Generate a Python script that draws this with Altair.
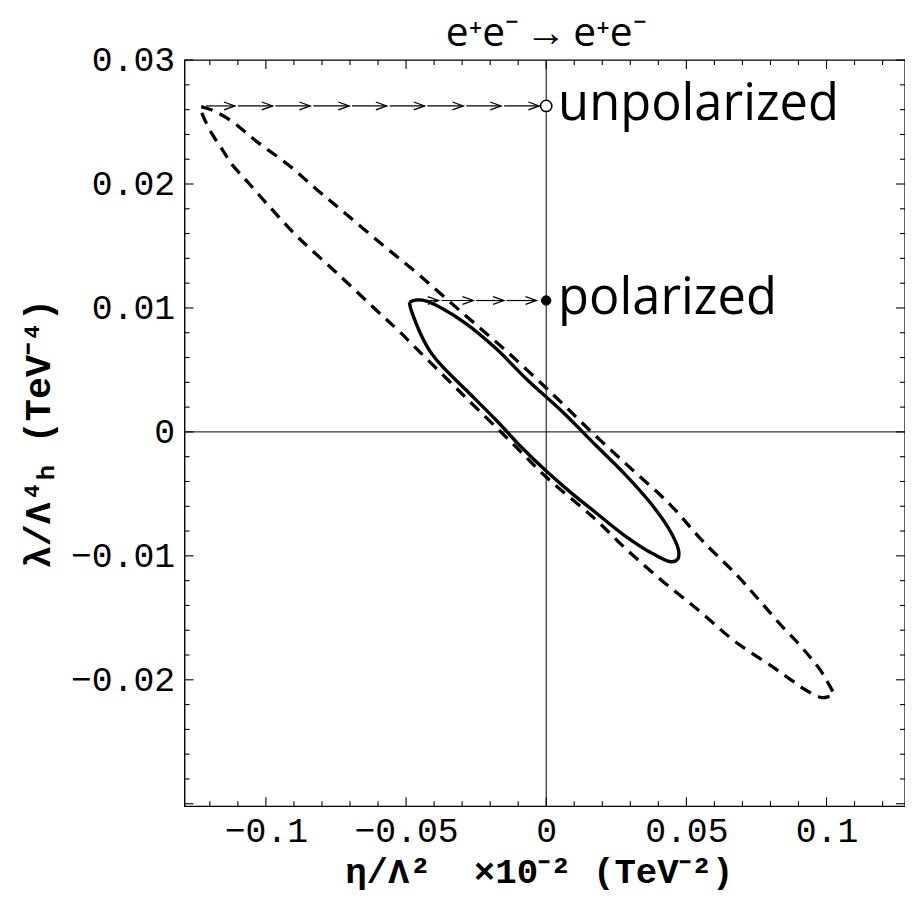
import altair as alt
import pandas as pd

# ---------------- data ----------------
# unpolarized (dashed) contour, traced point by point
unpol_x = [-0.1231, -0.1188, -0.1125, -0.1029, -0.0923, -0.0817, -0.0711, -0.0579, -0.0452,
           -0.0299, -0.0144, 0.0027, 0.0165, 0.0299, 0.0441, 0.0558, 0.0682, 0.0767, 0.0838,
           0.0898, 0.0944, 0.0980, 0.1001, 0.1019, 0.1026, 0.1008, 0.0983, 0.0930, 0.0873,
           0.0803, 0.0672, 0.0548, 0.0413, 0.0292, 0.0175, -0.0002, -0.0126, -0.0299, -0.0463,
           -0.0533, -0.0603, -0.0746, -0.0888, -0.0990, -0.1065, -0.1122, -0.1154, -0.1189, -0.1217,
           -0.1231, -0.1231]
unpol_y = [0.02624, 0.02592, 0.02512, 0.02336, 0.0216, 0.01952, 0.01752, 0.0150, 0.01264,
           0.0096, 0.00656, 0.00296, -0.00008, -0.00288, -0.00584, -0.0088, -0.0116, -0.01376, -0.0156,
           -0.01704, -0.01824, -0.01928, -0.02008, -0.0208, -0.0212, -0.02136, -0.02144, -0.02088, -0.0200,
           -0.01888, -0.01688, -0.01448, -0.0120, -0.0096, -0.00704, -0.0036, -0.0008, 0.00304, 0.00672,
           0.0083, 0.00976, 0.0128, 0.01576, 0.01824, 0.02016, 0.0216, 0.02272, 0.02392, 0.02512,
           0.02592, 0.02624]

# polarized (solid) contour
pol_x = [-0.0488, -0.0463, -0.0427, -0.0374, -0.0285, -0.0179, -0.0066, 0.0055, 0.0175, 0.0282,
         0.0370, 0.0434, 0.0462, 0.0473, 0.0470, 0.0448, 0.0388, 0.0282, 0.0175, 0.0087,
         0.0002, -0.0090, -0.0179, -0.0285, -0.0374, -0.0416, -0.0445, -0.0469, -0.0484, -0.0488]
pol_y = [0.01048, 0.01064, 0.01056, 0.0100, 0.00872, 0.00672, 0.00416, 0.00168, -0.00104, -0.00344,
         -0.00568, -0.00768, -0.00888, -0.00968, -0.01024, -0.01048, -0.00992, -0.0084, -0.00648, -0.00488,
         -0.0032, -0.0012, 0.00096, 0.00336, 0.00536, 0.00656, 0.00776, 0.00904, 0.0100, 0.01048]

# chain of arrows from the contour tips to the lambda axis
unpol_max = 0.0263
unpol_arrow_start = [-0.1214, -0.1100, -0.0966, -0.0831, -0.0693, -0.0558, -0.0424, -0.0285, -0.0150]
unpol_arrow_end = [-0.1111, -0.0976, -0.0842, -0.0703, -0.0569, -0.0434, -0.0296, -0.0161, -0.0025]
pol_max = 0.0106
pol_arrow_start = [-0.0478, -0.0374, -0.0250, -0.0141]
pol_arrow_end = [-0.0384, -0.0260, -0.0151, -0.0035]

label_text = ["unpolarized", "polarized"]
label_y = [unpol_max, pol_max]

# axes
x_labels = [-0.1, -0.05, 0, 0.05, 0.1]
x_minor = [-0.12, -0.11, -0.09, -0.08, -0.07, -0.06, -0.04, -0.03, -0.02, -0.01,
           0.01, 0.02, 0.03, 0.04, 0.06, 0.07, 0.08, 0.09, 0.11, 0.12]
y_labels = [-0.02, -0.01, 0, 0.01, 0.02, 0.03]
y_major = [-0.03, -0.02, -0.01, 0, 0.01, 0.02, 0.03]
y_minor = [-0.028, -0.026, -0.024, -0.022, -0.018, -0.016, -0.014, -0.012, -0.008, -0.006,
           -0.004, -0.002, 0.002, 0.004, 0.006, 0.008, 0.012, 0.014, 0.016, 0.018,
           0.022, 0.024, 0.026, 0.028]

title_text = ["e⁺e⁻\u2009→\u2009e⁺e⁻"]
title_x = [0]
x_title = "η/Λ²\u00a0\u00a0×10⁻² (TeV⁻²)"
y_title = "λ/Λ⁴ₕ (TeV⁻⁴)"

# ---------------- chart ----------------
W, H = 726, 752
xs = alt.Scale(domain=[-0.129, 0.128], nice=False, zero=False)
ys = alt.Scale(domain=[-0.0302, 0.03], nice=False, zero=False)

xaxis = alt.Axis(values=x_labels, format="~g", ticks=False, domain=False, grid=False,
                 labelFont="Liberation Mono", labelFontSize=35, labelColor="black",
                 labelPadding=8, labelFlush=False, labelOverlap=False,
                 title=x_title, titleFont="Liberation Mono", titleFontSize=36,
                 titleFontWeight="bold", titleColor="black",
                 titleX=357, titleY=77, titleAlign="center", titleBaseline="alphabetic")
yaxis = alt.Axis(values=y_labels, format="~g", ticks=False, domain=False, grid=False,
                 labelFont="Liberation Mono", labelFontSize=35, labelColor="black",
                 labelPadding=10, labelFlush=False, labelOverlap=False,
                 title=y_title, titleFont="Liberation Mono", titleFontSize=37,
                 titleFontWeight="bold", titleColor="black",
                 titleX=-147, titleY=376, titleAlign="center", titleBaseline="middle")


def X(f):
    return alt.X(f, type="quantitative", scale=xs, axis=xaxis)


def Y(f):
    return alt.Y(f, type="quantitative", scale=ys, axis=yaxis)


unpol_df = pd.DataFrame({"x": unpol_x, "y": unpol_y, "i": range(len(unpol_x))})
pol_df = pd.DataFrame({"x": pol_x, "y": pol_y, "i": range(len(pol_x))})
arrows_df = pd.DataFrame({
    "x0": unpol_arrow_start + pol_arrow_start,
    "x1": unpol_arrow_end + pol_arrow_end,
    "y": [unpol_max] * len(unpol_arrow_start) + [pol_max] * len(pol_arrow_start),
})
labels_df = pd.DataFrame({"x": [0, 0], "y": label_y, "t": label_text})
origin_df = pd.DataFrame({"x": [0], "y": [0]})
title_df = pd.DataFrame({"x": title_x, "t": title_text})

unpol_line = alt.Chart(unpol_df).mark_line(color="black", strokeWidth=3.3, strokeDash=[12, 8],
                                           interpolate="catmull-rom").encode(
    x=X("x"), y=Y("y"), order="i:Q")
pol_line = alt.Chart(pol_df).mark_line(color="black", strokeWidth=3.4,
                                       interpolate="catmull-rom").encode(
    x=X("x"), y=Y("y"), order="i:Q")

xzero = alt.Chart(origin_df).mark_rule(color="black", strokeWidth=1).encode(x=X("x"))
yzero = alt.Chart(origin_df).mark_rule(color="black", strokeWidth=1).encode(y=Y("y"))

shafts = alt.Chart(arrows_df).mark_rule(color="black", strokeWidth=1.2).encode(
    x=X("x0"), x2="x1", y=Y("y"))
heads = alt.Chart(arrows_df).mark_point(shape="M-1,-0.36L0,0L-1,0.36", size=480, filled=False,
                                        stroke="black", strokeWidth=1.3, opacity=1).encode(
    x=X("x1"), y=Y("y"))

open_pt = alt.Chart(labels_df.iloc[[0]]).mark_point(shape="circle", size=130, filled=True, fill="white",
                                                    stroke="black", strokeWidth=1.5, opacity=1).encode(
    x=X("x"), y=Y("y"))
full_pt = alt.Chart(labels_df.iloc[[1]]).mark_point(shape="circle", size=90, filled=True, fill="black",
                                                    stroke="black", strokeWidth=1, opacity=1).encode(
    x=X("x"), y=Y("y"))
texts = alt.Chart(labels_df).mark_text(align="left", baseline="alphabetic", dx=12, dy=14,
                                       font="Open Sans", fontSize=51, color="black").encode(
    x=X("x"), y=Y("y"), text="t:N")

title = alt.Chart(title_df).mark_text(align="center", baseline="middle", font="Open Sans",
                                      fontSize=41, color="black").encode(
    x=X("x"), y=alt.value(-26), text="t:N")

# frame ticks (inward, on all four sides)
xmaj_df = pd.DataFrame({"v": x_labels})
xmin_df = pd.DataFrame({"v": x_minor})
ymaj_df = pd.DataFrame({"v": y_major})
ymin_df = pd.DataFrame({"v": y_minor})
MAJ, MIN = 9, 5
tick_layers = []
for df, L in ((xmaj_df, MAJ), (xmin_df, MIN)):
    tick_layers.append(alt.Chart(df).mark_rule(color="black", strokeWidth=1.1).encode(
        x=X("v"), y=alt.value(H), y2=alt.value(H - L)))
    tick_layers.append(alt.Chart(df).mark_rule(color="black", strokeWidth=1.1).encode(
        x=X("v"), y=alt.value(0), y2=alt.value(L)))
for df, L in ((ymaj_df, MAJ), (ymin_df, MIN)):
    tick_layers.append(alt.Chart(df).mark_rule(color="black", strokeWidth=1.1).encode(
        y=Y("v"), x=alt.value(0), x2=alt.value(L)))
    tick_layers.append(alt.Chart(df).mark_rule(color="black", strokeWidth=1.1).encode(
        y=Y("v"), x=alt.value(W), x2=alt.value(W - L)))

chart = alt.layer(
    *tick_layers, xzero, yzero, unpol_line, pol_line, shafts, heads, open_pt, full_pt, texts, title
).properties(
    width=W, height=H,
    autosize=alt.AutoSizeParams(type="none"),
    padding={"left": 178, "top": 49, "right": 0, "bottom": 86},
).configure_view(stroke="black", strokeWidth=1.4)

chart.save("out.html", embed_options={"renderer": "svg", "actions": False})
